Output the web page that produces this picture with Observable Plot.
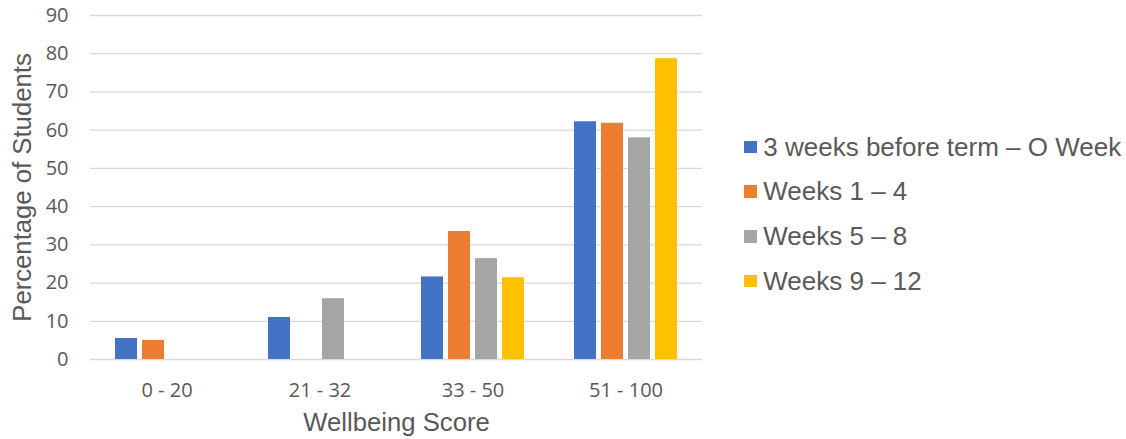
<!DOCTYPE html>
<html>
<head>
<meta charset="utf-8">
<script src="https://cdn.jsdelivr.net/npm/d3@7"></script>
<script src="https://cdn.jsdelivr.net/npm/@observablehq/plot@0.6"></script>
<style>
  body { margin: 0; background: #fff; }
  #wrap { position: relative; width: 1126px; height: 439px; overflow: hidden; }
  #chart { position: absolute; left: 0; top: 0; }
  #legend { position: absolute; left: 744px; top: 124.6px; font-family: "Liberation Sans", Arial, sans-serif; font-size: 26px; color: #595959; }
  #legend .row { height: 44.7px; line-height: 44.7px; display: flex; align-items: center; white-space: nowrap; }
  #legend .sw { width: 12.6px; height: 12.6px; margin-right: 6.7px; flex: none; }
  svg g[aria-label="y-axis label"], svg g[aria-label="fx-axis label"] { font-family: "Liberation Sans", Arial, sans-serif; font-size: 25.7px; }
</style>
</head>
<body>
<div id="wrap">
  <div id="chart"></div>
  <div id="legend"></div>
</div>
<script>
const groups = ["0 - 20", "21 - 32", "33 - 50", "51 - 100"];
const seriesNames = ["3 weeks before term – O Week", "Weeks 1 – 4", "Weeks 5 – 8", "Weeks 9 – 12"];
const colors = ["#4472C4", "#ED7D31", "#A5A5A5", "#FFC000"];
const valuesBefore = [5.5, 11.0, 21.6, 62.2];
const valuesW1to4 = [5.0, null, 33.5, 61.8];
const valuesW5to8 = [null, 15.9, 26.4, 58.0];
const valuesW9to12 = [null, null, 21.4, 78.7];
const yTicks = [0, 10, 20, 30, 40, 50, 60, 70, 80, 90];
const xTitle = "Wellbeing Score";
const yTitle = "Percentage of Students";

const seriesValues = [valuesBefore, valuesW1to4, valuesW5to8, valuesW9to12];
const data = [];
groups.forEach((g, gi) => {
  seriesNames.forEach((s, si) => {
    const v = seriesValues[si][gi];
    if (v != null) data.push({group: g, series: s, value: v});
  });
});

const plot = Plot.plot({
  width: 720,
  height: 439,
  marginLeft: 89,
  marginRight: 17,
  marginTop: 15,
  marginBottom: 80,
  style: {fontFamily: "'Open Sans', sans-serif", fontSize: "20px", color: "#595959", background: "white"},
  fx: {domain: groups, padding: 0},
  x: {domain: seriesNames, paddingInner: 0.2, paddingOuter: 0.88, axis: null},
  y: {domain: [0, 90]},
  color: {domain: seriesNames, range: colors},
  marks: [
    Plot.gridY(yTicks, {stroke: "#D9D9D9", strokeOpacity: 1, strokeWidth: 1.3}),
    Plot.barY(data, {fx: "group", x: "series", y: "value", fill: "series"}),
    Plot.axisY({ticks: yTicks, tickSize: 0, tickPadding: 22, label: yTitle, labelAnchor: "center", labelOffset: 77.3, labelArrow: "none"}),
    Plot.axisFx({anchor: "bottom", tickSize: 0, tickPadding: 23, label: xTitle, labelAnchor: "center", labelOffset: 71, labelArrow: "none"})
  ]
});
document.getElementById("chart").appendChild(plot);

const legend = document.getElementById("legend");
seriesNames.forEach((s, i) => {
  const row = document.createElement("div");
  row.className = "row";
  const sw = document.createElement("span");
  sw.className = "sw";
  sw.style.background = colors[i];
  const t = document.createElement("span");
  t.textContent = s;
  row.appendChild(sw);
  row.appendChild(t);
  legend.appendChild(row);
});
</script>
</body>
</html>
